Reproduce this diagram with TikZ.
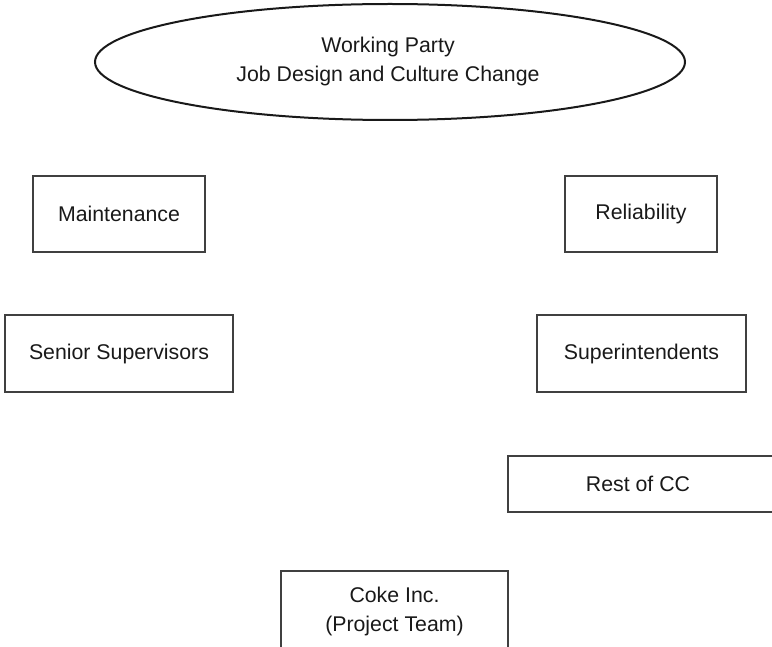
\documentclass[tikz,border=0pt]{standalone}
\usepackage{fontspec}
\setmainfont{Liberation Sans}
\usetikzlibrary{shapes.geometric}
\begin{document}
\begin{tikzpicture}[x=1pt,y=-1pt,
  every node/.style={font=\fontsize{21.3}{29}\selectfont, align=center, text=black!90},
  unitbox/.style={draw=black!75, line width=1.1pt, inner sep=0pt},
  oval/.style={ellipse, draw=black!90, line width=2pt, inner sep=0pt}]
\useasboundingbox (0,0) rectangle (772,647);
\clip (0,0) rectangle (772,647);
\node[oval, minimum width=590pt, minimum height=116pt] (wp) at (390,62) {};
\node (wpt) at (388,61) {Working Party\\Job Design and Culture Change};
\node[unitbox, minimum width=172pt, minimum height=76pt] (maint) at (119,214) {Maintenance};
\node[unitbox, minimum width=228pt, minimum height=77pt] (senior) at (119,353.5) {Senior Supervisors};
\node[unitbox, minimum width=152pt, minimum height=76pt] (rel) at (641,214) {Reliability};
\node[unitbox, minimum width=209pt, minimum height=77pt] (super) at (641.5,353.5) {Superintendents};
\node[unitbox, minimum width=268pt, minimum height=56pt] (rest) at (642,484) {};
\node (restt) at (638,484) {Rest of CC};
\node[unitbox, minimum width=227pt, minimum height=80pt] (coke) at (394.5,611) {Coke Inc.\\(Project Team)};
\end{tikzpicture}
\end{document}
